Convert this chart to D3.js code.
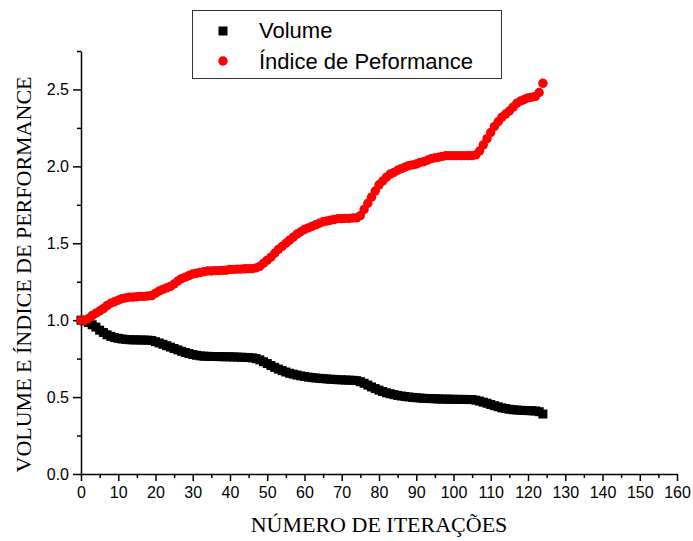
<!DOCTYPE html>
<html><head><meta charset="utf-8">
<script src="https://cdn.jsdelivr.net/npm/d3@7"></script>
<style>body{margin:0;background:#fff}svg{display:block}</style>
</head><body>
<svg id="c" width="693" height="541"></svg>
<script>
const iterations = d3.range(0, 125);
const volume = [1.0,0.995,0.985,0.97,0.955,0.935,0.92,0.905,0.895,0.887,
0.882,0.878,0.875,0.873,0.872,0.872,0.871,0.871,0.870,0.868,
0.86,0.852,0.843,0.834,0.825,0.816,0.807,0.798,0.79,0.783,
0.777,0.772,0.768,0.766,0.765,0.764,0.764,0.763,0.763,0.762,
0.762,0.761,0.76,0.759,0.758,0.757,0.755,0.75,0.742,0.73,
0.718,0.705,0.693,0.682,0.672,0.663,0.655,0.649,0.643,0.638,
0.634,0.63,0.627,0.624,0.622,0.62,0.618,0.616,0.615,0.613,
0.612,0.611,0.61,0.609,0.607,0.6,0.59,0.578,0.566,0.555,
0.545,0.536,0.528,0.522,0.516,0.511,0.507,0.504,0.501,0.498,
0.496,0.494,0.492,0.491,0.49,0.489,0.488,0.487,0.487,0.486,
0.486,0.485,0.485,0.485,0.484,0.484,0.48,0.474,0.467,0.46,
0.452,0.444,0.437,0.43,0.425,0.421,0.418,0.416,0.414,0.413,
0.412,0.411,0.41,0.405,0.39];
const indice = [1.0,1.0,1.01,1.03,1.045,1.06,1.075,1.095,1.11,1.12,
1.13,1.14,1.145,1.15,1.15,1.152,1.155,1.155,1.157,1.16,
1.175,1.19,1.2,1.21,1.22,1.235,1.255,1.27,1.28,1.29,
1.3,1.305,1.31,1.315,1.32,1.32,1.322,1.322,1.324,1.325,
1.33,1.33,1.332,1.332,1.334,1.335,1.335,1.34,1.35,1.37,
1.39,1.41,1.435,1.46,1.48,1.5,1.52,1.54,1.56,1.575,
1.59,1.6,1.61,1.62,1.63,1.64,1.645,1.65,1.655,1.66,
1.66,1.662,1.662,1.664,1.665,1.68,1.72,1.76,1.8,1.84,
1.88,1.905,1.93,1.95,1.96,1.975,1.985,1.995,2.005,2.01,
2.015,2.025,2.03,2.04,2.05,2.055,2.06,2.065,2.07,2.07,
2.07,2.07,2.07,2.07,2.07,2.07,2.075,2.1,2.14,2.18,
2.22,2.26,2.29,2.32,2.34,2.36,2.385,2.41,2.425,2.435,
2.445,2.45,2.455,2.48,2.54];
const xTicks = [0,10,20,30,40,50,60,70,80,90,100,110,120,130,140,150,160];
const yTicks = [0.0,0.5,1.0,1.5,2.0,2.5];
const seriesNames = ["Volume","Índice de Peformance"];
const xTitle = "NÚMERO DE ITERAÇÕES";
const yTitle = "VOLUME E ÍNDICE DE PERFORMANCE";

const svg = d3.select("#c");
const x = d3.scaleLinear().domain([0,160]).range([81,677]);
const y = d3.scaleLinear().domain([0,2.75]).range([474,51]);

const tickFont = "Liberation Sans, Arial, sans-serif";
// minor ticks
svg.append("g").attr("transform","translate(0,474)")
  .call(d3.axisBottom(x).tickValues(d3.range(5,160,10)).tickSize(4).tickFormat("").tickSizeOuter(0))
  .call(g=>g.select(".domain").remove())
  .selectAll("line").attr("stroke","#000").attr("stroke-width",1.5);
svg.append("g").attr("transform","translate(81,0)")
  .call(d3.axisLeft(y).tickValues([0.25,0.75,1.25,1.75,2.25,2.75]).tickSize(4).tickFormat("").tickSizeOuter(0))
  .call(g=>g.select(".domain").remove())
  .selectAll("line").attr("stroke","#000").attr("stroke-width",1.5);
// major
const gx = svg.append("g").attr("transform","translate(0,474)")
  .call(d3.axisBottom(x).tickValues(xTicks).tickSize(7).tickSizeOuter(0).tickPadding(6).tickFormat(d3.format("d")));
gx.select(".domain").attr("stroke","#000").attr("stroke-width",1.5);
gx.selectAll("line").attr("stroke","#000").attr("stroke-width",1.5);
gx.selectAll("text").attr("font-family",tickFont).attr("font-size",16).attr("fill","#000");
const gy = svg.append("g").attr("transform","translate(81,0)")
  .call(d3.axisLeft(y).tickValues(yTicks).tickSize(8).tickSizeOuter(0).tickPadding(4).tickFormat(d3.format(".1f")));
gy.select(".domain").attr("stroke","#000").attr("stroke-width",1.5);
gy.selectAll("line").attr("stroke","#000").attr("stroke-width",1.5);
gy.selectAll("text").attr("font-family",tickFont).attr("font-size",16).attr("fill","#000");

// titles
svg.append("text").attr("x",(x(0)+x(160))/2).attr("y",532).attr("text-anchor","middle")
  .attr("font-family","Liberation Serif, Times New Roman, serif").attr("font-size",22).text(xTitle);
svg.append("text").attr("transform","translate(31,"+((y(0)+y(2.75))/2 + 12)+") rotate(-90)").attr("text-anchor","middle")
  .attr("font-family","Liberation Serif, Times New Roman, serif").attr("font-size",22).text(yTitle);

// data
const s = 9;
svg.append("g").selectAll("rect").data(iterations).join("rect")
  .attr("x",d=>x(d)-s/2).attr("y",(d,i)=>y(volume[i])-s/2).attr("width",s).attr("height",s).attr("fill","#000");
svg.append("g").selectAll("circle").data(iterations).join("circle")
  .attr("cx",d=>x(d)).attr("cy",(d,i)=>y(indice[i])).attr("r",4.7).attr("fill","#ff0000");

// legend
const lg = svg.append("g");
lg.append("rect").attr("x",192.5).attr("y",10.5).attr("width",309).attr("height",68)
  .attr("fill","#fff").attr("stroke","#333").attr("stroke-width",1);
lg.append("rect").attr("x",223-4.5).attr("y",31-4.5).attr("width",9).attr("height",9).attr("fill","#000");
lg.append("circle").attr("cx",223).attr("cy",61).attr("r",4.7).attr("fill","#ff0000");
lg.append("text").attr("x",259).attr("y",38).attr("font-family",tickFont).attr("font-size",22).text(seriesNames[0]);
lg.append("text").attr("x",259).attr("y",69).attr("font-family",tickFont).attr("font-size",22).text(seriesNames[1]);
</script>
</body></html>
